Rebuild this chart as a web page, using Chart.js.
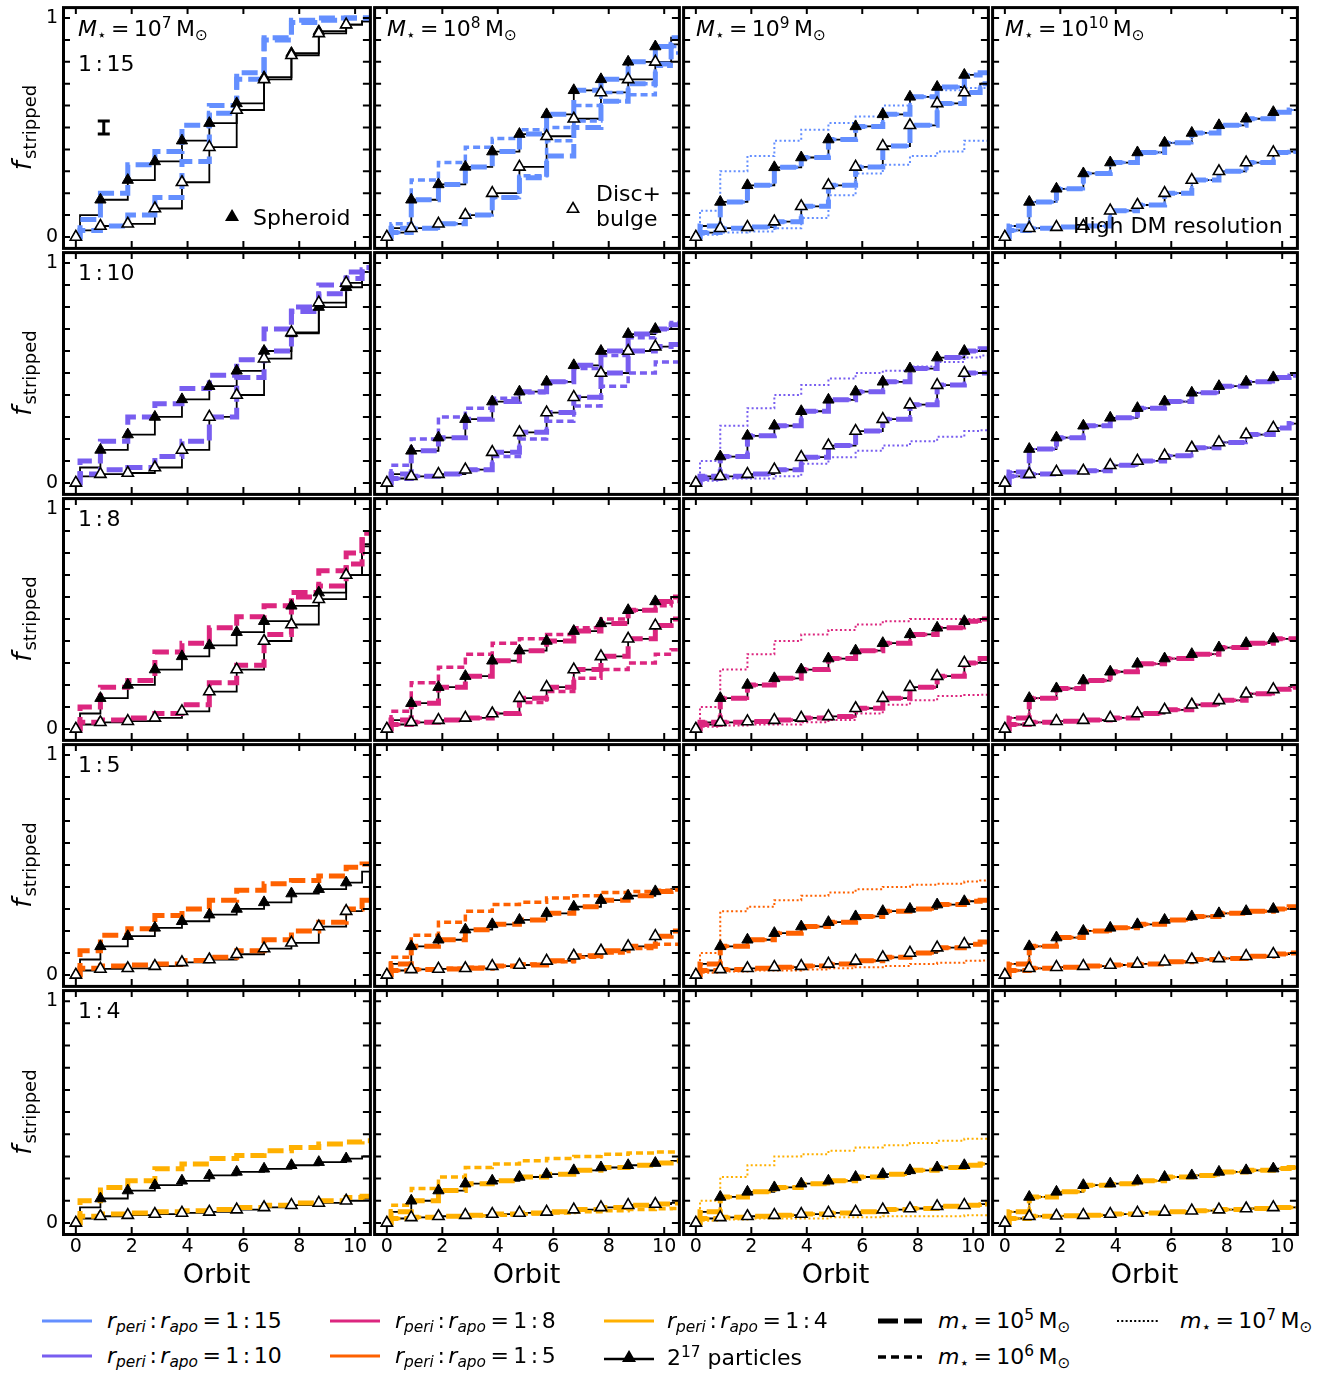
<!DOCTYPE html>
<html>
<head>
<meta charset="utf-8">
<script src="https://cdn.jsdelivr.net/npm/chart.js@4.4.1/dist/chart.umd.min.js"></script>
<style>
  body { margin: 0; background: #fff; font-family: "DejaVu Sans", sans-serif; }
  #fig { position: relative; width: 1342px; height: 1374px; overflow: hidden; }
  #fig canvas { position: absolute; }
  .t { position: absolute; font-size: 22px; line-height: 1; white-space: nowrap; color: #000;
       transform: translateY(-50%); z-index: 5; }
  .t sub { font-size: 0.7em; vertical-align: -0.28em; line-height: 0; }
  .t sup { font-size: 0.7em; vertical-align: 0.5em; line-height: 0; }
  .c { margin: 0 0.16em; }
  svg { position: absolute; z-index: 5; }
</style>
</head>
<body>
<div id="fig"></div>
<script>
// orbit positions of the sampled levels (start, first rise, 10 pericentres, end)
const orbitX = [0, 0.15, 0.88, 1.86, 2.83, 3.8, 4.78, 5.76, 6.74, 7.72, 8.7, 9.68, 10.25];
const xTickVals = [0, 2, 4, 6, 8, 10];
const yTickVals = [0, 0.1, 0.2, 0.3, 0.4, 0.5, 0.6, 0.7, 0.8, 0.9, 1];
const yLabelVals = [0, 1];
const errBar = [1, 0.5, 0.03]; // orbit, f, half height
const X_MIN = -0.46, X_MAX = 10.53;

const ratioColors = ['#648FFF', '#785EF0', '#DC267F', '#FE6100', '#FFB000'];
const ratioLabels = ['15', '10', '8', '5', '4'];
const massExp = ['7', '8', '9', '10'];

// --- 1:15 ---
const q15m7Sph  = [0, 0.10, 0.17, 0.26, 0.345, 0.44, 0.52, 0.61, 0.73, 0.84, 0.94, 0.97, 0.985];
const q15m7Dsc  = [0, 0.03, 0.05, 0.06, 0.13, 0.25, 0.41, 0.58, 0.72, 0.83, 0.93, 0.97, 0.985];
const q15m7Sph5 = [0, 0.08, 0.20, 0.33, 0.39, 0.51, 0.60, 0.75, 0.91, 0.99, 1.0, 1.0, 1.0];
const q15m7Dsc5 = [0, 0.03, 0.05, 0.10, 0.18, 0.345, 0.565, 0.72, 0.90, 0.98, 0.99, 1.0, 1.0];
const q15m8Sph  = [0, 0.04, 0.17, 0.24, 0.32, 0.39, 0.47, 0.56, 0.67, 0.72, 0.80, 0.87, 0.91];
const q15m8Dsc  = [0, 0.02, 0.04, 0.06, 0.10, 0.20, 0.32, 0.46, 0.54, 0.66, 0.72, 0.80, 0.88];
const q15m8Dsc5 = [0, 0.02, 0.04, 0.06, 0.10, 0.18, 0.27, 0.37, 0.50, 0.62, 0.70, 0.79, 0.88];
const q15m8Sph6 = [0, 0.06, 0.26, 0.34, 0.41, 0.45, 0.49, 0.50, 0.60, 0.66, 0.70, 0.78, 0.87];
const q15m8Dsc6 = [0, 0.02, 0.04, 0.06, 0.10, 0.18, 0.28, 0.44, 0.53, 0.62, 0.65, 0.79, 0.84];
const q15m9Sph  = [0, 0.05, 0.16, 0.236, 0.318, 0.363, 0.445, 0.505, 0.56, 0.64, 0.685, 0.74, 0.75];
const q15m9Dsc  = [0, 0.02, 0.04, 0.045, 0.07, 0.14, 0.236, 0.32, 0.415, 0.51, 0.61, 0.66, 0.70];
const q15m9Sph7 = [0, 0.12, 0.30, 0.37, 0.44, 0.49, 0.52, 0.55, 0.60, 0.64, 0.67, 0.68, 0.68];
const q15m9Dsc7 = [0, 0.01, 0.02, 0.025, 0.04, 0.087, 0.19, 0.29, 0.33, 0.37, 0.39, 0.44, 0.44];
const q15m10Sph = [0, 0.05, 0.16, 0.22, 0.29, 0.34, 0.386, 0.43, 0.475, 0.51, 0.54, 0.57, 0.58];
const q15m10Dsc = [0, 0.03, 0.04, 0.045, 0.05, 0.12, 0.146, 0.20, 0.26, 0.30, 0.34, 0.386, 0.39];

// --- 1:10 ---
const q10m7Sph  = [0, 0.07, 0.15, 0.22, 0.30, 0.38, 0.44, 0.51, 0.60, 0.68, 0.80, 0.89, 0.96];
const q10m7Dsc  = [0, 0.03, 0.04, 0.045, 0.07, 0.15, 0.30, 0.40, 0.565, 0.685, 0.82, 0.91, 0.96];
const q10m7Sph5 = [0, 0.10, 0.19, 0.30, 0.36, 0.43, 0.49, 0.56, 0.70, 0.80, 0.90, 0.96, 0.98];
const q10m7Dsc5 = [0, 0.04, 0.06, 0.07, 0.12, 0.19, 0.30, 0.48, 0.60, 0.78, 0.86, 0.93, 0.97];
const q10m8Sph  = [0, 0.04, 0.146, 0.206, 0.29, 0.37, 0.415, 0.46, 0.535, 0.60, 0.677, 0.70, 0.72];
const q10m8Dsc  = [0, 0.02, 0.03, 0.04, 0.06, 0.14, 0.23, 0.32, 0.39, 0.50, 0.60, 0.62, 0.63];
const q10m8Sph6 = [0, 0.08, 0.20, 0.30, 0.34, 0.385, 0.41, 0.46, 0.52, 0.58, 0.66, 0.70, 0.73];
const q10m8Dsc6 = [0, 0.02, 0.03, 0.04, 0.06, 0.12, 0.20, 0.28, 0.35, 0.44, 0.50, 0.55, 0.55];
const q10m9Sph  = [0, 0.03, 0.12, 0.214, 0.26, 0.326, 0.378, 0.415, 0.46, 0.52, 0.57, 0.60, 0.61];
const q10m9Dsc  = [0, 0.02, 0.03, 0.04, 0.06, 0.117, 0.17, 0.236, 0.29, 0.356, 0.445, 0.50, 0.50];
const q10m9Sph7 = [0, 0.10, 0.26, 0.34, 0.40, 0.445, 0.475, 0.50, 0.51, 0.53, 0.55, 0.57, 0.58];
const q10m9Dsc7 = [0, 0.01, 0.02, 0.02, 0.03, 0.087, 0.117, 0.146, 0.17, 0.19, 0.21, 0.236, 0.24];
const q10m10Sph = [0, 0.05, 0.154, 0.206, 0.26, 0.296, 0.34, 0.37, 0.41, 0.44, 0.46, 0.48, 0.49];
const q10m10Dsc = [0, 0.03, 0.04, 0.05, 0.055, 0.08, 0.10, 0.124, 0.16, 0.184, 0.22, 0.25, 0.27];

// --- 1:8 ---
const q8m7Sph   = [0, 0.07, 0.14, 0.20, 0.27, 0.33, 0.38, 0.44, 0.49, 0.56, 0.62, 0.70, 0.84];
const q8m7Dsc   = [0, 0.02, 0.03, 0.035, 0.05, 0.08, 0.17, 0.27, 0.40, 0.475, 0.59, 0.70, 0.83];
const q8m7Sph5  = [0, 0.10, 0.19, 0.22, 0.35, 0.39, 0.46, 0.51, 0.56, 0.62, 0.72, 0.80, 0.89];
const q8m7Dsc5  = [0, 0.03, 0.04, 0.05, 0.07, 0.11, 0.21, 0.29, 0.43, 0.60, 0.65, 0.75, 0.86];
const q8m8Sph   = [0, 0.04, 0.117, 0.19, 0.24, 0.31, 0.356, 0.40, 0.445, 0.48, 0.54, 0.58, 0.60];
const q8m8Dsc   = [0, 0.02, 0.03, 0.04, 0.05, 0.07, 0.14, 0.19, 0.27, 0.33, 0.41, 0.47, 0.50];
const q8m8Sph6  = [0, 0.08, 0.21, 0.28, 0.34, 0.39, 0.41, 0.43, 0.46, 0.50, 0.54, 0.56, 0.58];
const q8m8Dsc6  = [0, 0.02, 0.03, 0.04, 0.05, 0.07, 0.12, 0.17, 0.23, 0.27, 0.30, 0.34, 0.36];
const q8m9Sph   = [0, 0.03, 0.14, 0.20, 0.23, 0.27, 0.32, 0.356, 0.39, 0.43, 0.46, 0.49, 0.50];
const q8m9Dsc   = [0, 0.02, 0.03, 0.034, 0.04, 0.05, 0.057, 0.094, 0.14, 0.19, 0.24, 0.30, 0.32];
const q8m9Sph7  = [0, 0.10, 0.27, 0.34, 0.40, 0.43, 0.45, 0.475, 0.49, 0.50, 0.50, 0.50, 0.50];
const q8m9Dsc7  = [0, 0.01, 0.015, 0.02, 0.02, 0.03, 0.04, 0.07, 0.11, 0.13, 0.15, 0.154, 0.155];
const q8m10Sph  = [0, 0.05, 0.14, 0.184, 0.22, 0.26, 0.296, 0.32, 0.34, 0.37, 0.39, 0.41, 0.41];
const q8m10Dsc  = [0, 0.02, 0.03, 0.035, 0.04, 0.05, 0.07, 0.087, 0.11, 0.13, 0.16, 0.18, 0.19];

// --- 1:5 ---
const q5m7Sph   = [0, 0.07, 0.13, 0.176, 0.214, 0.244, 0.274, 0.30, 0.33, 0.37, 0.39, 0.42, 0.47];
const q5m7Dsc   = [0, 0.02, 0.027, 0.03, 0.04, 0.057, 0.07, 0.094, 0.12, 0.146, 0.22, 0.29, 0.34];
const q5m7Sph5  = [0, 0.11, 0.18, 0.21, 0.27, 0.30, 0.34, 0.385, 0.415, 0.43, 0.45, 0.49, 0.505];
const q5m7Dsc5  = [0, 0.03, 0.04, 0.045, 0.05, 0.065, 0.08, 0.11, 0.16, 0.20, 0.24, 0.30, 0.34];
const q5m8Sph   = [0, 0.05, 0.13, 0.16, 0.206, 0.23, 0.25, 0.28, 0.31, 0.34, 0.36, 0.38, 0.39];
const q5m8Dsc   = [0, 0.02, 0.025, 0.027, 0.03, 0.04, 0.045, 0.064, 0.087, 0.11, 0.13, 0.176, 0.20];
const q5m8Sph6  = [0, 0.08, 0.18, 0.24, 0.29, 0.32, 0.33, 0.35, 0.36, 0.375, 0.38, 0.385, 0.39];
const q5m8Dsc6  = [0, 0.02, 0.025, 0.03, 0.035, 0.04, 0.05, 0.06, 0.08, 0.10, 0.12, 0.14, 0.14];
const q5m9Sph   = [0, 0.05, 0.13, 0.16, 0.19, 0.22, 0.24, 0.266, 0.29, 0.30, 0.32, 0.335, 0.34];
const q5m9Dsc   = [0, 0.02, 0.025, 0.03, 0.035, 0.04, 0.05, 0.064, 0.08, 0.10, 0.124, 0.14, 0.15];
const q5m9Sph7  = [0, 0.10, 0.29, 0.31, 0.34, 0.36, 0.375, 0.39, 0.40, 0.41, 0.415, 0.425, 0.43];
const q5m9Dsc7  = [0, 0.01, 0.015, 0.02, 0.02, 0.025, 0.03, 0.035, 0.04, 0.05, 0.055, 0.064, 0.065];
const q5m10Sph  = [0, 0.05, 0.13, 0.17, 0.20, 0.214, 0.23, 0.25, 0.266, 0.28, 0.29, 0.30, 0.31];
const q5m10Dsc  = [0, 0.02, 0.03, 0.035, 0.04, 0.045, 0.05, 0.06, 0.07, 0.075, 0.085, 0.095, 0.10];

// --- 1:4 ---
const q4m7Sph   = [0, 0.07, 0.11, 0.146, 0.17, 0.19, 0.214, 0.23, 0.244, 0.26, 0.274, 0.29, 0.30];
const q4m7Dsc   = [0, 0.02, 0.03, 0.035, 0.04, 0.045, 0.05, 0.06, 0.07, 0.08, 0.09, 0.10, 0.11];
const q4m7Sph5  = [0, 0.10, 0.16, 0.19, 0.244, 0.266, 0.29, 0.304, 0.326, 0.34, 0.356, 0.365, 0.37];
const q4m7Dsc5  = [0, 0.03, 0.04, 0.045, 0.05, 0.055, 0.06, 0.07, 0.08, 0.09, 0.10, 0.115, 0.12];
const q4m8Sph   = [0, 0.05, 0.10, 0.146, 0.177, 0.19, 0.207, 0.22, 0.237, 0.25, 0.26, 0.27, 0.28];
const q4m8Dsc   = [0, 0.02, 0.025, 0.03, 0.035, 0.04, 0.045, 0.05, 0.06, 0.07, 0.08, 0.085, 0.09];
const q4m8Sph6  = [0, 0.08, 0.155, 0.207, 0.25, 0.266, 0.28, 0.29, 0.30, 0.31, 0.315, 0.32, 0.32];
const q4m8Dsc6  = [0, 0.02, 0.025, 0.03, 0.032, 0.035, 0.04, 0.045, 0.05, 0.055, 0.06, 0.064, 0.065];
const q4m9Sph   = [0, 0.05, 0.117, 0.14, 0.16, 0.177, 0.19, 0.207, 0.22, 0.237, 0.25, 0.26, 0.266];
const q4m9Dsc   = [0, 0.02, 0.025, 0.03, 0.035, 0.04, 0.045, 0.05, 0.06, 0.065, 0.075, 0.08, 0.085];
const q4m9Sph7  = [0, 0.10, 0.207, 0.26, 0.30, 0.31, 0.326, 0.34, 0.35, 0.36, 0.37, 0.38, 0.38];
const q4m9Dsc7  = [0, 0.01, 0.015, 0.02, 0.02, 0.02, 0.025, 0.025, 0.03, 0.03, 0.03, 0.035, 0.035];
const q4m10Sph  = [0, 0.05, 0.117, 0.14, 0.17, 0.177, 0.19, 0.207, 0.214, 0.23, 0.237, 0.245, 0.25];
const q4m10Dsc  = [0, 0.02, 0.03, 0.032, 0.035, 0.04, 0.045, 0.05, 0.055, 0.06, 0.065, 0.07, 0.07];

// which runs appear in each panel: N = 2^17 particles, m5/m6/m7 = m* = 1e5/1e6/1e7
const panels = [
  { r: 0, c: 0, N: [q15m7Sph, q15m7Dsc], m5: [q15m7Sph5, q15m7Dsc5] },
  { r: 0, c: 1, N: [q15m8Sph, q15m8Dsc], m5: [q15m8Sph, q15m8Dsc5], m6: [q15m8Sph6, q15m8Dsc6] },
  { r: 0, c: 2, N: [q15m9Sph, q15m9Dsc], m5: [q15m9Sph, q15m9Dsc], m6: [q15m9Sph, q15m9Dsc], m7: [q15m9Sph7, q15m9Dsc7] },
  { r: 0, c: 3, N: [q15m10Sph, q15m10Dsc], m5: [q15m10Sph, q15m10Dsc], m6: [q15m10Sph, q15m10Dsc], m7: [q15m10Sph, q15m10Dsc] },
  { r: 1, c: 0, N: [q10m7Sph, q10m7Dsc], m5: [q10m7Sph5, q10m7Dsc5] },
  { r: 1, c: 1, N: [q10m8Sph, q10m8Dsc], m5: [q10m8Sph, q10m8Dsc], m6: [q10m8Sph6, q10m8Dsc6] },
  { r: 1, c: 2, N: [q10m9Sph, q10m9Dsc], m5: [q10m9Sph, q10m9Dsc], m6: [q10m9Sph, q10m9Dsc], m7: [q10m9Sph7, q10m9Dsc7] },
  { r: 1, c: 3, N: [q10m10Sph, q10m10Dsc], m5: [q10m10Sph, q10m10Dsc], m6: [q10m10Sph, q10m10Dsc], m7: [q10m10Sph, q10m10Dsc] },
  { r: 2, c: 0, N: [q8m7Sph, q8m7Dsc], m5: [q8m7Sph5, q8m7Dsc5] },
  { r: 2, c: 1, N: [q8m8Sph, q8m8Dsc], m5: [q8m8Sph, q8m8Dsc], m6: [q8m8Sph6, q8m8Dsc6] },
  { r: 2, c: 2, N: [q8m9Sph, q8m9Dsc], m5: [q8m9Sph, q8m9Dsc], m6: [q8m9Sph, q8m9Dsc], m7: [q8m9Sph7, q8m9Dsc7] },
  { r: 2, c: 3, N: [q8m10Sph, q8m10Dsc], m5: [q8m10Sph, q8m10Dsc], m6: [q8m10Sph, q8m10Dsc], m7: [q8m10Sph, q8m10Dsc] },
  { r: 3, c: 0, N: [q5m7Sph, q5m7Dsc], m5: [q5m7Sph5, q5m7Dsc5] },
  { r: 3, c: 1, N: [q5m8Sph, q5m8Dsc], m5: [q5m8Sph, q5m8Dsc], m6: [q5m8Sph6, q5m8Dsc6] },
  { r: 3, c: 2, N: [q5m9Sph, q5m9Dsc], m5: [q5m9Sph, q5m9Dsc], m6: [q5m9Sph, q5m9Dsc], m7: [q5m9Sph7, q5m9Dsc7] },
  { r: 3, c: 3, N: [q5m10Sph, q5m10Dsc], m5: [q5m10Sph, q5m10Dsc], m6: [q5m10Sph, q5m10Dsc], m7: [q5m10Sph, q5m10Dsc] },
  { r: 4, c: 0, N: [q4m7Sph, q4m7Dsc], m5: [q4m7Sph5, q4m7Dsc5] },
  { r: 4, c: 1, N: [q4m8Sph, q4m8Dsc], m5: [q4m8Sph, q4m8Dsc], m6: [q4m8Sph6, q4m8Dsc6] },
  { r: 4, c: 2, N: [q4m9Sph, q4m9Dsc], m5: [q4m9Sph, q4m9Dsc], m6: [q4m9Sph, q4m9Dsc], m7: [q4m9Sph7, q4m9Dsc7] },
  { r: 4, c: 3, N: [q4m10Sph, q4m10Dsc], m5: [q4m10Sph, q4m10Dsc], m6: [q4m10Sph, q4m10Dsc], m7: [q4m10Sph, q4m10Dsc] }
];

const colLeft = [63, 372, 681, 990];
const rowTop = [5, 250, 496, 742, 988, 1234];
const PW = 309;
const FONT = '"DejaVu Sans", sans-serif';

// level points, with the last level carried on to the right frame
function pts(vals) {
  const out = vals.map((v, i) => ({ x: orbitX[i], y: v }));
  out.push({ x: X_MAX, y: vals[vals.length - 1] });
  return out;
}
function markerPts(vals) {
  return vals.map((v, i) => ({ x: orbitX[i], y: v }));
}
const markerR = orbitX.map((x, i) => (i === 1 || i === orbitX.length - 1) ? 0 : 6.5);

const framePlugin = {
  id: 'frame',
  afterDraw(chart, args, o) {
    const { ctx, chartArea: a, scales: { x, y } } = chart;
    ctx.save();
    ctx.strokeStyle = '#000';
    ctx.lineWidth = 2;
    ctx.beginPath();
    xTickVals.forEach(v => {
      const px = x.getPixelForValue(v);
      ctx.moveTo(px, a.bottom); ctx.lineTo(px, a.bottom - 7);
      ctx.moveTo(px, a.top); ctx.lineTo(px, a.top + 7);
    });
    yTickVals.forEach(v => {
      const py = y.getPixelForValue(v);
      ctx.moveTo(a.left, py); ctx.lineTo(a.left + 7, py);
      ctx.moveTo(a.right, py); ctx.lineTo(a.right - 7, py);
    });
    ctx.stroke();
    ctx.lineWidth = 3;
    ctx.strokeRect(a.left + 0.5, a.top + 0.5, a.right - a.left, a.bottom - a.top);

    ctx.fillStyle = '#000';
    if (o.errbar) {
      const ex = x.getPixelForValue(errBar[0]);
      const y1 = y.getPixelForValue(errBar[1] + errBar[2]);
      const y2 = y.getPixelForValue(errBar[1] - errBar[2]);
      ctx.lineWidth = 3;
      ctx.beginPath();
      ctx.moveTo(ex, y1); ctx.lineTo(ex, y2);
      ctx.moveTo(ex - 6, y1); ctx.lineTo(ex + 6, y1);
      ctx.moveTo(ex - 6, y2); ctx.lineTo(ex + 6, y2);
      ctx.stroke();
    }
    if (o.xLabels) {
      ctx.font = '19px ' + FONT;
      ctx.textAlign = 'center';
      ctx.textBaseline = 'top';
      xTickVals.forEach(v => ctx.fillText(String(v), x.getPixelForValue(v), a.bottom + 4));
      ctx.font = '27px ' + FONT;
      ctx.textBaseline = 'middle';
      ctx.fillText('Orbit', (a.left + a.right) / 2, a.bottom + 42);
    }
    if (o.yLabels) {
      ctx.font = '19px ' + FONT;
      ctx.textAlign = 'right';
      ctx.textBaseline = 'middle';
      yLabelVals.forEach(v => ctx.fillText(String(v), a.left - 5, y.getPixelForValue(v)));
      ctx.translate(a.left - 41, (a.top + a.bottom) / 2);
      ctx.rotate(-Math.PI / 2);
      ctx.textAlign = 'left';
      ctx.textBaseline = 'alphabetic';
      ctx.font = 'italic 26px ' + FONT;
      const fw = ctx.measureText('f').width;
      ctx.font = '18px ' + FONT;
      const sw = ctx.measureText('stripped').width;
      const x0 = -(fw + sw + 2) / 2;
      ctx.font = 'italic 26px ' + FONT;
      ctx.fillText('f', x0, 9);
      ctx.font = '18px ' + FONT;
      ctx.fillText('stripped', x0 + fw + 2, 14);
    }
    ctx.restore();
  }
};

const fig = document.getElementById('fig');

panels.forEach(p => {
  const col = ratioColors[p.r];
  const ph = rowTop[p.r + 1] - rowTop[p.r];
  const padL = p.c === 0 ? 70 : 6;
  const padB = p.r === 4 ? 62 : 6;
  const pad = 6;
  const w = PW + padL + pad, h = ph + pad + padB;
  const cv = document.createElement('canvas');
  cv.width = w; cv.height = h;
  cv.style.left = (colLeft[p.c] - padL) + 'px';
  cv.style.top = (rowTop[p.r] - pad) + 'px';
  cv.style.width = w + 'px';
  cv.style.height = h + 'px';
  fig.appendChild(cv);

  const ds = [];
  p.N.forEach(v => ds.push({ data: pts(v), borderColor: '#000', borderWidth: 1.8, pointRadius: 0,
                             stepped: true, fill: false, order: 10 }));
  if (p.m5) p.m5.forEach(v => ds.push({ data: pts(v), borderColor: col, borderWidth: 5, borderDash: [16, 6],
                                         pointRadius: 0, stepped: true, fill: false, order: 6 }));
  if (p.m6) p.m6.forEach(v => ds.push({ data: pts(v), borderColor: col, borderWidth: 3.5, borderDash: [7, 4],
                                         pointRadius: 0, stepped: true, fill: false, order: 5 }));
  if (p.m7) p.m7.forEach(v => ds.push({ data: pts(v), borderColor: col, borderWidth: 2, borderDash: [2, 2.5],
                                         pointRadius: 0, stepped: true, fill: false, order: 4 }));
  // markers of the 2^17 particle runs: filled = spheroid, open = disc+bulge
  ds.push({ data: markerPts(p.N[0]), showLine: false, pointStyle: 'triangle', pointRadius: markerR,
            backgroundColor: '#000', borderColor: '#000', borderWidth: 1, order: 1 });
  ds.push({ data: markerPts(p.N[1]), showLine: false, pointStyle: 'triangle', pointRadius: markerR,
            backgroundColor: '#fff', borderColor: '#000', borderWidth: 1.6, order: 0 });

  new Chart(cv, {
    type: 'line',
    data: { datasets: ds },
    options: {
      responsive: false,
      animation: false,
      events: [],
      layout: { padding: { left: padL, right: pad, top: pad, bottom: padB } },
      scales: {
        x: { type: 'linear', min: X_MIN, max: X_MAX, display: false },
        y: { type: 'linear', min: -0.05, max: 1.05, display: false }
      },
      plugins: {
        legend: { display: false },
        tooltip: { enabled: false },
        frame: { xLabels: p.r === 4, yLabels: p.c === 0, errbar: p.r === 0 && p.c === 0 }
      }
    },
    plugins: [framePlugin]
  });
});

// text annotations
function addText(html, left, cy, size) {
  const d = document.createElement('div');
  d.className = 't';
  d.innerHTML = html;
  d.style.left = left + 'px';
  d.style.top = cy + 'px';
  if (size) d.style.fontSize = size + 'px';
  fig.appendChild(d);
}
const ratio = (q) => '1<span class="c">:</span>' + q;
massExp.forEach((e, c) => addText('<i>M</i><sub>⋆</sub>&thinsp;=&thinsp;10<sup>' + e + '</sup>&thinsp;M<sub>⊙</sub>', colLeft[c] + 15, 29));
ratioLabels.forEach((q, r) => addText(ratio(q), 78, r === 0 ? 64 : rowTop[r] + 23));
addText('Spheroid', 253, 218);
addText('Disc+', 596, 194);
addText('bulge', 596, 219);
addText('High DM resolution', 1073, 226);

const rr = (q) => '<i>r</i><sub><i>peri</i></sub><span class="c">:</span><i>r</i><sub><i>apo</i></sub>&thinsp;=&thinsp;' + ratio(q);
addText(rr(ratioLabels[0]), 107, 1321);
addText(rr(ratioLabels[1]), 107, 1356);
addText(rr(ratioLabels[2]), 395, 1321);
addText(rr(ratioLabels[3]), 395, 1356);
addText(rr(ratioLabels[4]), 667, 1321);
addText('2<sup>17</sup> particles', 667, 1358);
addText('<i>m</i><sub>⋆</sub>&thinsp;=&thinsp;10<sup>5</sup>&thinsp;M<sub>⊙</sub>', 938, 1321);
addText('<i>m</i><sub>⋆</sub>&thinsp;=&thinsp;10<sup>6</sup>&thinsp;M<sub>⊙</sub>', 938, 1357);
addText('<i>m</i><sub>⋆</sub>&thinsp;=&thinsp;10<sup>7</sup>&thinsp;M<sub>⊙</sub>', 1180, 1321);

// legend handles and marker keys
const svgNS = 'http://www.w3.org/2000/svg';
const svg = document.createElementNS(svgNS, 'svg');
svg.setAttribute('width', 1342);
svg.setAttribute('height', 1374);
svg.style.left = '0px';
svg.style.top = '0px';
svg.style.pointerEvents = 'none';
function el(tag, attrs) {
  const e = document.createElementNS(svgNS, tag);
  Object.keys(attrs).forEach(k => e.setAttribute(k, attrs[k]));
  svg.appendChild(e);
}
function tri(cx, cy, fill) {
  const r = 6.5;
  const p = [[cx, cy - r], [cx + r * 0.866, cy + r * 0.5], [cx - r * 0.866, cy + r * 0.5]];
  el('polygon', { points: p.map(q => q.join(',')).join(' '), fill: fill, stroke: '#000', 'stroke-width': 1.6 });
}
el('line', { x1: 42, x2: 92, y1: 1321, y2: 1321, stroke: ratioColors[0], 'stroke-width': 3 });
el('line', { x1: 42, x2: 92, y1: 1356, y2: 1356, stroke: ratioColors[1], 'stroke-width': 3 });
el('line', { x1: 330, x2: 380, y1: 1321, y2: 1321, stroke: ratioColors[2], 'stroke-width': 3 });
el('line', { x1: 330, x2: 380, y1: 1356, y2: 1356, stroke: ratioColors[3], 'stroke-width': 3 });
el('line', { x1: 604, x2: 654, y1: 1321, y2: 1321, stroke: ratioColors[4], 'stroke-width': 3 });
el('line', { x1: 604, x2: 654, y1: 1359, y2: 1359, stroke: '#000', 'stroke-width': 2.5 });
tri(629, 1358, '#000');
el('line', { x1: 878, x2: 922, y1: 1321, y2: 1321, stroke: '#000', 'stroke-width': 5, 'stroke-dasharray': '20 6' });
el('line', { x1: 878, x2: 922, y1: 1357, y2: 1357, stroke: '#000', 'stroke-width': 3.5, 'stroke-dasharray': '8 5' });
el('line', { x1: 1117, x2: 1160, y1: 1321, y2: 1321, stroke: '#000', 'stroke-width': 2, 'stroke-dasharray': '2 2.3' });
tri(232, 217, '#000');
tri(573, 209, '#fff');
fig.appendChild(svg);
</script>
</body>
</html>
